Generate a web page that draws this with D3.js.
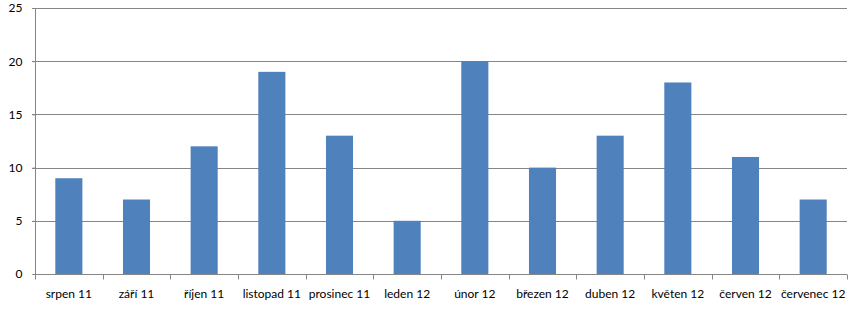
<!DOCTYPE html>
<html><head><meta charset="utf-8">
<script src="https://cdn.jsdelivr.net/npm/d3@7"></script>
<style>body{margin:0;background:#fff}svg{display:block}</style>
</head><body>
<svg id="c" width="853" height="312"></svg>
<script>
const categories = ["srpen 11","září 11","říjen 11","listopad 11","prosinec 11","leden 12","únor 12","březen 12","duben 12","květen 12","červen 12","červenec 12"];
const values = [9,7,12,19,13,5,20,10,13,18,11,7];
const yTicks = [0,5,10,15,20,25];

const svg = d3.select("#c");
const m = {l:35, r:6, t:8, b:38};
const W = 853, H = 312;
const x = d3.scaleBand().domain(categories).range([m.l, W-m.r]).paddingInner(0.6).paddingOuter(0.3);
const xb = d3.scaleBand().domain(categories).range([m.l, W-m.r]);
const y = d3.scaleLinear().domain([0,25]).range([H-m.b, m.t]);
const font = "Lato, 'Open Sans', sans-serif";

// gridlines
svg.append("g").selectAll("line").data(yTicks.filter(d=>d>0)).join("line")
  .attr("x1", m.l-3).attr("x2", W-m.r)
  .attr("y1", d=>Math.round(y(d))+0.5).attr("y2", d=>Math.round(y(d))+0.5)
  .attr("stroke", "#868686").attr("stroke-width", 1);

// bars
svg.append("g").selectAll("rect").data(values).join("rect")
  .attr("x", (d,i)=>x(categories[i]))
  .attr("width", x.bandwidth())
  .attr("y", d=>y(d))
  .attr("height", d=>y(0)-y(d))
  .attr("fill", "#4F81BD");

// y axis
const ya = svg.append("g").attr("transform", `translate(${m.l+0.5},0)`)
  .call(d3.axisLeft(y).tickValues(yTicks).tickSize(3).tickPadding(10));
ya.select(".domain").attr("stroke", "#868686").attr("d", `M-3,${m.t+0.5}H0V${Math.round(y(0))+0.5}H-3`);
ya.selectAll(".tick line").attr("stroke", "#868686");
ya.selectAll(".tick text").attr("font-family", font).attr("font-size", 12).attr("fill", "#000");

// x axis
const xa = svg.append("g").attr("transform", `translate(0,${Math.round(y(0))+0.5})`);
xa.append("line").attr("x1", m.l).attr("x2", W-m.r).attr("stroke", "#868686");
const bounds = categories.map(c=>xb(c)).concat([W-m.r]);
xa.selectAll("line.t").data(bounds).join("line").attr("class","t")
  .attr("x1", d=>Math.round(d)+0.5).attr("x2", d=>Math.round(d)+0.5)
  .attr("y1", 0).attr("y2", 5).attr("stroke", "#868686");
xa.selectAll("text").data(categories).join("text")
  .attr("x", d=>xb(d)+xb.bandwidth()/2).attr("y", 23)
  .attr("text-anchor", "middle").attr("font-family", font).attr("font-size", 12)
  .attr("fill", "#000").text(d=>d);
</script>
</body></html>
